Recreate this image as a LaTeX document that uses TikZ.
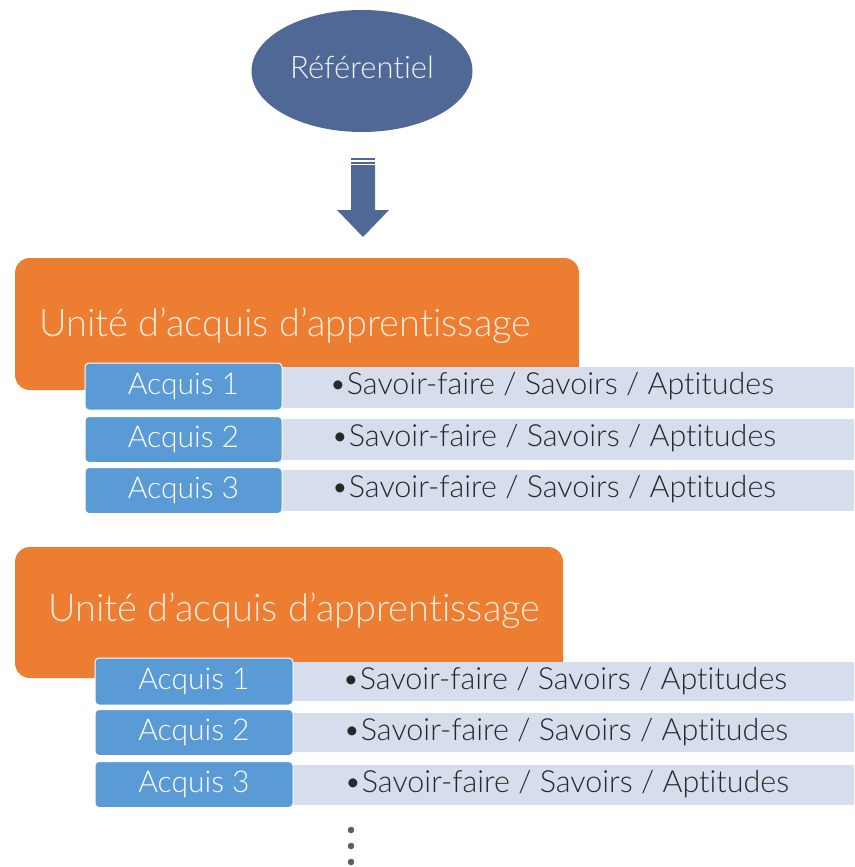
\documentclass[tikz,border=0pt]{standalone}
\usepackage{fontspec}
\usetikzlibrary{shapes.geometric}
\setmainfont{Lato Light}[Ligatures={NoCommon}]
\definecolor{ellblue}{RGB}{79,104,150}
\definecolor{uorange}{RGB}{237,125,49}
\definecolor{ablue}{RGB}{91,155,213}
\definecolor{stripc}{RGB}{214,222,238}
\definecolor{otext}{RGB}{253,233,217}
\definecolor{stext}{RGB}{40,40,40}
\definecolor{dotc}{RGB}{95,95,95}
\begin{document}
\begin{tikzpicture}[x=1pt,y=-1pt,
  orangebox/.style={fill=uorange,rounded corners=15pt,inner sep=0pt},
  stripbox/.style={fill=stripc,inner sep=0pt,minimum height=41pt},
  acqbox/.style={fill=ablue,draw=white,line width=1pt,rounded corners=4pt,inner sep=0pt,
    minimum width=197pt,minimum height=46pt,text=white,font=\fontsize{30}{32}\selectfont},
  unittext/.style={anchor=west,text=otext,inner sep=0pt,font=\fontsize{38}{40}\selectfont},
  stripttext/.style={anchor=west,text=stext,inner sep=0pt,font=\fontsize{30.5}{32}\selectfont}]
\useasboundingbox (0,0) rectangle (854,867);
% referentiel
\node[ellipse,fill=ellblue,minimum width=221pt,minimum height=122pt,inner sep=0pt,
  text=white!92!ellblue,font=\fontsize{31}{33}\selectfont] (ref) at (362,71) {\raisebox{7pt}{Référentiel}};
% striped arrow
\fill[ellblue] (351,158) rectangle (375,160);
\fill[ellblue] (351,161.5) rectangle (375,163.5);
\fill[ellblue] (351,165) -- (375,165) -- (375,210) -- (389,210) -- (363,237) -- (337,210) -- (351,210) -- cycle;
% unit 1
\node[orangebox,minimum width=564pt,minimum height=132pt] (u1) at (297,324) {};
\node[unittext] (u1t) at (39,326) {Unité d’acquis d’apprentissage};
\node[stripbox,minimum width=572pt] (s11) at (568,387.5) {};
\node[stripbox,minimum width=572pt] (s12) at (568,439) {};
\node[stripbox,minimum width=572pt] (s13) at (568,490) {};
\node[acqbox,minimum height=47pt] (a11) at (183.5,386.5) {Acquis 1};
\node[acqbox] (a12) at (183.5,439.5) {Acquis 2};
\node[acqbox] (a13) at (183.5,490.5) {Acquis 3};
\node[stripttext] (t11) at (329,386) {\textbullet Savoir-faire / Savoirs / Aptitudes};
\node[stripttext] (t12) at (331,438) {\textbullet Savoir-faire / Savoirs / Aptitudes};
\node[stripttext] (t13) at (331,489) {\textbullet Savoir-faire / Savoirs / Aptitudes};
% unit 2
\node[orangebox,minimum width=548pt,minimum height=131pt] (u2) at (289,612.5) {};
\node[unittext] (u2t) at (48,611) {Unité d’acquis d’apprentissage};
\node[stripbox,minimum width=561pt,minimum height=39pt] (s21) at (573.5,681) {};
\node[stripbox,minimum width=561pt,minimum height=39pt] (s22) at (573.5,732.5) {};
\node[stripbox,minimum width=561pt,minimum height=40pt] (s23) at (573.5,785) {};
\node[acqbox,minimum height=47pt,minimum width=198pt] (a21) at (194,681.5) {Acquis 1};
\node[acqbox,minimum width=198pt] (a22) at (194,732.5) {Acquis 2};
\node[acqbox,minimum width=198pt] (a23) at (194,784.5) {Acquis 3};
\node[stripttext] (t21) at (342,681) {\textbullet Savoir-faire / Savoirs / Aptitudes};
\node[stripttext] (t22) at (343,732) {\textbullet Savoir-faire / Savoirs / Aptitudes};
\node[stripttext] (t23) at (344,784) {\textbullet Savoir-faire / Savoirs / Aptitudes};
% dots
\fill[dotc] (351,830) circle (3.3pt);
\fill[dotc] (351,846) circle (3.3pt);
\fill[dotc] (351,862) circle (3.3pt);
\end{tikzpicture}
\end{document}
